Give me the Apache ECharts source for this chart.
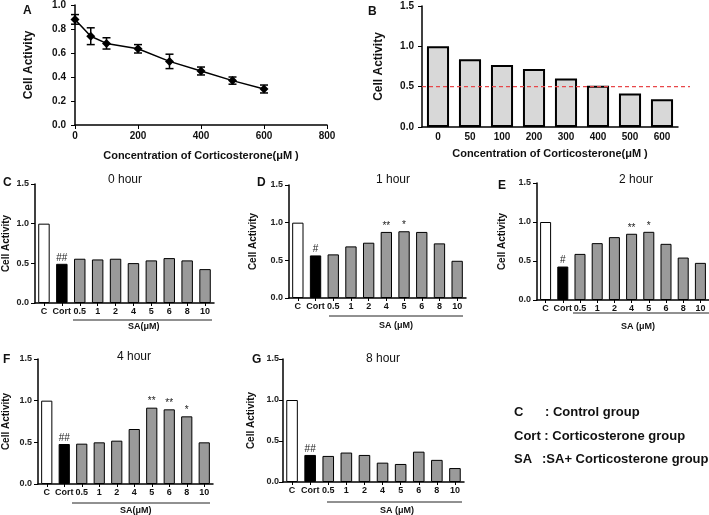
<!DOCTYPE html>
<html><head><meta charset="utf-8">
<script src="https://cdn.jsdelivr.net/npm/echarts@6/dist/echarts.min.js"></script>
<style>html,body{margin:0;padding:0;background:#fff}#c{width:709px;height:515px}</style>
</head><body><div id="c"></div>
<script>
// ---- data ----
const concA = [0, 50, 100, 200, 300, 400, 500, 600];
const actA = [0.88, 0.74, 0.68, 0.635, 0.53, 0.45, 0.37, 0.30];
const errA = [0.04, 0.07, 0.047, 0.035, 0.06, 0.033, 0.03, 0.033];
const catsB = ['0', '50', '100', '200', '300', '400', '500', '600'];
const actB = [1.0, 0.84, 0.77, 0.72, 0.60, 0.51, 0.415, 0.345];
const ic50Line = 0.5;
const catsSA = ['C', 'Cort', '0.5', '1', '2', '4', '5', '6', '8', '10'];
const h0 = [1.0, 0.494, 0.558, 0.549, 0.558, 0.503, 0.537, 0.566, 0.537, 0.427];
const h1 = [1.0, 0.565, 0.579, 0.685, 0.734, 0.877, 0.886, 0.877, 0.725, 0.494];
const h2 = [1.0, 0.429, 0.591, 0.729, 0.806, 0.849, 0.874, 0.72, 0.544, 0.476];
const h4 = [1.0, 0.48, 0.484, 0.5, 0.52, 0.66, 0.916, 0.896, 0.812, 0.5];
const h8 = [1.0, 0.33, 0.318, 0.359, 0.33, 0.236, 0.22, 0.37, 0.27, 0.17];
const marks0 = ['', '##', '', '', '', '', '', '', '', ''];
const marks1 = ['', '#', '', '', '', '**', '*', '', '', ''];
const marks2 = ['', '#', '', '', '', '**', '*', '', '', ''];
const marks4 = ['', '##', '', '', '', '', '**', '**', '*', ''];
const marks8 = ['', '##', '', '', '', '', '', '', '', ''];

const F = 'Liberation Sans, Arial, sans-serif';
const chart = echarts.init(document.getElementById('c'));

const grids = [
  {left: 75, top: 5, width: 252, height: 120},   // A
  {left: 422, top: 6, width: 256, height: 121},  // B
  {left: 35, top: 184, width: 179, height: 119}, // C
  {left: 289, top: 185, width: 177, height: 113},// D
  {left: 537, top: 183, width: 172, height: 117},// E
  {left: 36, top: 359, width: 177, height: 125}, // F
  {left: 283, top: 359, width: 181, height: 123},// G
  {left: 422, top: 6, width: 268, height: 121}   // B dashed overlay
];

const axLine = {lineStyle: {color: '#000', width: 1.5}};
function yBar(gi, gap, fs, margin) {
  return {gridIndex: gi, type: 'value', min: 0, max: 1.5, interval: 0.5,
    name: 'Cell Activity', nameLocation: 'middle', nameGap: gap,
    nameTextStyle: {fontFamily: F, fontWeight: 'bold', fontSize: fs, color: '#111'},
    axisLine: Object.assign({show: true}, axLine), axisTick: {show: true, length: 4, lineStyle: {color: '#000'}},
    splitLine: {show: false},
    axisLabel: {fontFamily: F, fontWeight: 'bold', fontSize: 9, color: '#222', margin: margin, formatter: v => v.toFixed(1)}};
}
function xCat(gi, cats, fs) {
  return {gridIndex: gi, type: 'category', data: cats,
    axisLine: axLine, axisTick: {show: true, alignWithLabel: true, length: 3, lineStyle: {color: '#000'}},
    axisLabel: {fontFamily: F, fontWeight: 'bold', fontSize: fs, color: '#111', margin: 4, interval: 0}};
}

const xAxes = [
  {gridIndex: 0, type: 'value', min: 0, max: 800, interval: 200,
    name: 'Concentration of Corticosterone(μM )', nameLocation: 'middle', nameGap: 25,
    nameTextStyle: {fontFamily: F, fontWeight: 'bold', fontSize: 11, color: '#111'},
    axisLine: axLine, axisTick: {length: 4, lineStyle: {color: '#000'}}, splitLine: {show: false},
    axisLabel: {fontFamily: F, fontWeight: 'bold', fontSize: 10, color: '#111', margin: 6}},
  Object.assign(xCat(1, catsB, 10), {name: 'Concentration of Corticosterone(μM )', nameLocation: 'middle', nameGap: 21,
    nameTextStyle: {fontFamily: F, fontWeight: 'bold', fontSize: 11, color: '#111'},
    axisTick: {show: false}, axisLabel: {fontFamily: F, fontWeight: 'bold', fontSize: 10, color: '#111', margin: 5, interval: 0}}),
  xCat(2, catsSA, 9), xCat(3, catsSA, 9), xCat(4, catsSA, 9), xCat(5, catsSA, 9), xCat(6, catsSA, 9),
  {gridIndex: 7, type: 'value', min: 0, max: 1, show: false}
];
const yAxes = [
  {gridIndex: 0, type: 'value', min: 0, max: 1.0, interval: 0.2,
    name: 'Cell Activity', nameLocation: 'middle', nameGap: 40,
    nameTextStyle: {fontFamily: F, fontWeight: 'bold', fontSize: 12, color: '#111'},
    axisLine: Object.assign({show: true}, axLine), axisTick: {show: true, length: 4, lineStyle: {color: '#000'}},
    splitLine: {show: false},
    axisLabel: {fontFamily: F, fontWeight: 'bold', fontSize: 10, color: '#111', margin: 9, formatter: v => v.toFixed(1)}},
  Object.assign(yBar(1, 37, 12, 8), {axisLabel: {fontFamily: F, fontWeight: 'bold', fontSize: 10, color: '#111', margin: 8, formatter: v => v.toFixed(1)}}),
  yBar(2, 24, 10, 6), yBar(3, 31, 10, 6), yBar(4, 30, 10, 6), yBar(5, 27, 10, 6), yBar(6, 27, 10, 4),
  {gridIndex: 7, type: 'value', min: 0, max: 1.5, show: false}
];

function saSeries(idx, vals, marks) {
  return {type: 'bar', xAxisIndex: idx, yAxisIndex: idx, barCategoryGap: '36%',
    data: vals.map((v, i) => ({value: v, itemStyle: {color: i === 0 ? '#fff' : (i === 1 ? '#000' : '#9a9a9a'), borderColor: '#000', borderWidth: 1}})),
    label: {show: true, position: 'top', distance: 1, fontFamily: F, fontSize: 10, color: '#222',
      formatter: p => marks[p.dataIndex]}};
}

const series = [
  {type: 'line', xAxisIndex: 0, yAxisIndex: 0, data: concA.map((c, i) => [c, actA[i]]),
    symbol: 'diamond', symbolSize: 9, itemStyle: {color: '#000'}, lineStyle: {color: '#000', width: 1.5}, z: 3},
  {type: 'custom', xAxisIndex: 0, yAxisIndex: 0, data: concA.map((c, i) => [c, actA[i], errA[i]]),
    renderItem: (params, api) => {
      const x = api.value(0), y = api.value(1), e = api.value(2);
      const hi = api.coord([x, y + e]), lo = api.coord([x, y - e]);
      const w = 4, st = {stroke: '#000', lineWidth: 1.5};
      return {type: 'group', children: [
        {type: 'line', shape: {x1: hi[0], y1: hi[1], x2: lo[0], y2: lo[1]}, style: st},
        {type: 'line', shape: {x1: hi[0] - w, y1: hi[1], x2: hi[0] + w, y2: hi[1]}, style: st},
        {type: 'line', shape: {x1: lo[0] - w, y1: lo[1], x2: lo[0] + w, y2: lo[1]}, style: st}]};
    }, z: 2},
  {type: 'bar', xAxisIndex: 1, yAxisIndex: 1, data: actB, barCategoryGap: '31%',
    itemStyle: {color: '#d8d8d8', borderColor: '#000', borderWidth: 2}},
  {type: 'line', xAxisIndex: 7, yAxisIndex: 7, data: [[0, ic50Line], [1, ic50Line]], symbol: 'none',
    lineStyle: {color: '#e8474a', width: 1.2, type: [4, 3]}, z: 5},
  saSeries(2, h0, marks0), saSeries(3, h1, marks1), saSeries(4, h2, marks2),
  saSeries(5, h4, marks4), saSeries(6, h8, marks8)
];

function txt(x, y, t, o) {
  return {type: 'text', left: x, top: y, style: Object.assign({text: t, font: 'bold 12px ' + F, fill: '#111'}, o || {})};
}
function hline(x1, x2, y) {
  return {type: 'line', shape: {x1: x1, y1: y, x2: x2, y2: y}, style: {stroke: '#222', lineWidth: 1}};
}
const titleFont = '12px ' + F;
const saFont = 'bold 9px ' + F;
const legFont = 'bold 13px ' + F;
const graphic = [
  txt(23, 5, 'A'), txt(368, 6, 'B'), txt(3, 177, 'C'), txt(257, 177, 'D'), txt(498, 180, 'E'),
  txt(3, 354, 'F'), txt(252, 354, 'G'),
  txt(108, 174, '0 hour', {font: titleFont}), txt(376, 174, '1 hour', {font: titleFont}),
  txt(619, 174, '2 hour', {font: titleFont}), txt(117, 351, '4 hour', {font: titleFont}),
  txt(366, 353, '8 hour', {font: titleFont}),
  hline(73, 212, 320), txt(128, 322, 'SA(μM)', {font: saFont}),
  hline(329, 463, 316), txt(379, 321, 'SA (μM)', {font: saFont}),
  hline(573, 709, 313), txt(621, 322, 'SA (μM)', {font: saFont}),
  hline(72, 210, 503), txt(120, 506, 'SA(μM)', {font: saFont}),
  hline(327, 462, 502), txt(380, 506, 'SA (μM)', {font: saFont}),
  txt(514, 406, 'C', {font: legFont}), txt(545, 406, ': Control group', {font: legFont}),
  txt(514, 430, 'Cort : Corticosterone group', {font: legFont}),
  txt(514, 453, 'SA', {font: legFont}), txt(542, 453, ':SA+ Corticosterone group', {font: legFont})
];

chart.setOption({animation: false, grid: grids, xAxis: xAxes, yAxis: yAxes, series: series, graphic: graphic});
</script></body></html>
